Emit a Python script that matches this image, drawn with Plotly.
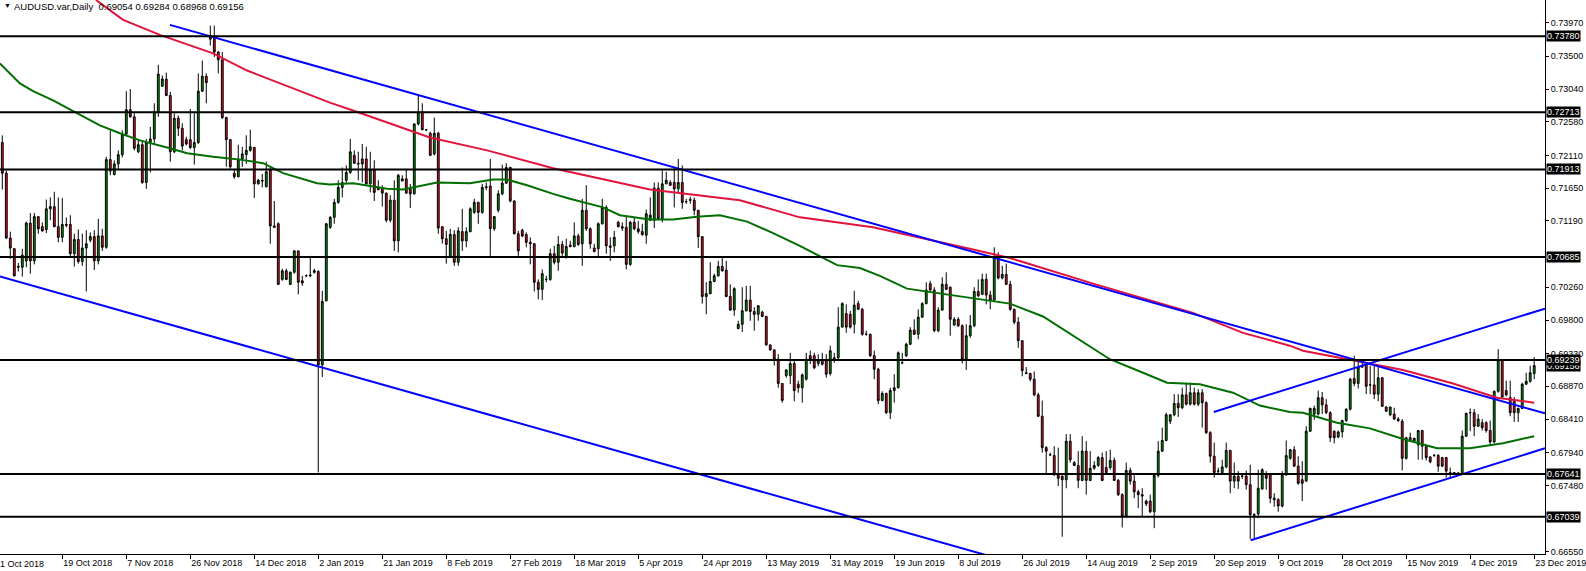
import plotly.graph_objects as go

# ---------------- data (prices in pips = price x 10^4) ----------------
date_labels = ["1 Oct 2018", "19 Oct 2018", "7 Nov 2018", "26 Nov 2018", "14 Dec 2018",
               "2 Jan 2019", "21 Jan 2019", "8 Feb 2019", "27 Feb 2019", "18 Mar 2019",
               "5 Apr 2019", "24 Apr 2019", "13 May 2019", "31 May 2019", "19 Jun 2019",
               "8 Jul 2019", "26 Jul 2019", "14 Aug 2019", "2 Sep 2019", "20 Sep 2019",
               "9 Oct 2019", "28 Oct 2019", "15 Nov 2019", "4 Dec 2019", "23 Dec 2019"]

opens = [
    7229, 7186, 7095, 7080, 7054, 7054, 7063, 7116, 7063, 7125,
    7111, 7107, 7136, 7139, 7111, 7096, 7114, 7114, 7073, 7093,
    7062, 7081, 7092, 7097, 7063, 7098, 7082, 7205, 7184, 7199,
    7212, 7241, 7275, 7265, 7216, 7226, 7173, 7229, 7234, 7272,
    7308, 7318, 7295, 7216, 7263, 7249, 7233, 7233, 7222, 7229,
    7301, 7322, 7377, 7375, 7356, 7345, 7264, 7233, 7186, 7181,
    7206, 7212, 7218, 7222, 7171, 7176, 7167, 7191, 7112, 7115,
    7037, 7049, 7030, 7047, 7077, 7035, 7042, 7042, 7047, 7048,
    6917, 7007, 7110, 7124, 7145, 7166, 7176, 7187, 7211, 7200,
    7206, 7206, 7171, 7191, 7163, 7164, 7158, 7120, 7148, 7091,
    7178, 7178, 7164, 7157, 7255, 7272, 7247, 7242, 7213, 7242,
    7111, 7094, 7070, 7100, 7061, 7104, 7091, 7104, 7131, 7145,
    7131, 7167, 7168, 7108, 7134, 7157, 7172, 7194, 7147, 7101,
    7106, 7100, 7089, 7087, 7033, 7023, 7037, 7037, 7073, 7061,
    7086, 7069, 7085, 7083, 7098, 7087, 7134, 7108, 7081, 7080,
    7115, 7138, 7084, 7084, 7117, 7111, 7110, 7058, 7117, 7108,
    7104, 7099, 7120, 7120, 7165, 7122, 7171, 7173, 7173, 7164,
    7173, 7146, 7149, 7148, 7134, 7097, 7013, 7017, 7034, 7042,
    7055, 7050, 7013, 6994, 6968, 6974, 6993, 7008, 6992, 6988,
    6991, 6985, 6945, 6938, 6925, 6891, 6902, 6902, 6919, 6890,
    6885, 6897, 6930, 6930, 6919, 6924, 6923, 6905, 6927, 6927,
    6970, 6989, 6988, 6974, 7003, 6995, 6960, 6960, 6930, 6911,
    6867, 6877, 6850, 6881, 6885, 6920, 6930, 6946, 6966, 6960,
    6984, 7003, 7031, 7022, 6965, 6994, 7030, 7026, 6973, 6981,
    6972, 6925, 6958, 6972, 7020, 7016, 7037, 7015, 7008, 7068,
    7039, 7044, 7030, 6995, 6977, 6951, 6906, 6905, 6897, 6875,
    6845, 6801, 6791, 6790, 6763, 6761, 6756, 6810, 6780, 6776,
    6755, 6796, 6755, 6772, 6776, 6787, 6773, 6773, 6783, 6755,
    6735, 6705, 6769, 6754, 6739, 6735, 6726, 6726, 6711, 6762,
    6796, 6811, 6838, 6847, 6863, 6857, 6875, 6862, 6878, 6862,
    6878, 6864, 6822, 6789, 6768, 6766, 6774, 6797, 6754, 6761,
    6761, 6761, 6749, 6707, 6708, 6743, 6763, 6763, 6730, 6728,
    6719, 6763, 6786, 6798, 6775, 6756, 6754, 6824, 6848, 6848,
    6871, 6861, 6850, 6824, 6816, 6823, 6839, 6855, 6898, 6891,
    6915, 6918, 6889, 6889, 6876, 6899, 6858, 6847, 6848, 6841,
    6838, 6786, 6815, 6810, 6805, 6825, 6803, 6788, 6790, 6790,
    6787, 6787, 6766, 6766, 6765, 6764, 6817, 6850, 6850, 6831,
    6836, 6836, 6825, 6809, 6880, 6924, 6881, 6871, 6866, 6850,
    6856, 6890, 6894, 6905]

highs = [
    7239, 7190, 7104, 7081, 7060, 7080, 7118, 7130, 7130, 7126,
    7117, 7149, 7152, 7160, 7152, 7151, 7124, 7127, 7101, 7107,
    7101, 7106, 7103, 7106, 7122, 7108, 7209, 7246, 7204, 7218,
    7246, 7301, 7304, 7270, 7234, 7231, 7234, 7251, 7284, 7338,
    7323, 7327, 7300, 7270, 7267, 7256, 7237, 7276, 7270, 7326,
    7344, 7326, 7393, 7393, 7357, 7356, 7265, 7234, 7192, 7226,
    7223, 7239, 7247, 7223, 7178, 7185, 7202, 7195, 7147, 7117,
    7052, 7052, 7048, 7078, 7077, 7042, 7044, 7070, 7052, 7050,
    7021, 7116, 7126, 7150, 7176, 7194, 7197, 7234, 7218, 7216,
    7227, 7223, 7216, 7204, 7176, 7169, 7159, 7155, 7176, 7185,
    7183, 7192, 7171, 7256, 7295, 7284, 7248, 7244, 7264, 7244,
    7111, 7105, 7108, 7106, 7110, 7136, 7110, 7138, 7150, 7146,
    7171, 7173, 7206, 7126, 7162, 7198, 7200, 7195, 7148, 7105,
    7108, 7103, 7096, 7088, 7037, 7051, 7042, 7080, 7084, 7098,
    7091, 7094, 7091, 7117, 7101, 7150, 7169, 7110, 7087, 7117,
    7150, 7141, 7096, 7105, 7119, 7117, 7126, 7119, 7124, 7119,
    7115, 7135, 7152, 7173, 7173, 7190, 7188, 7176, 7195, 7206,
    7197, 7150, 7153, 7152, 7134, 7097, 7033, 7061, 7045, 7063,
    7068, 7063, 7030, 7026, 6979, 7026, 7028, 7028, 6998, 7001,
    6993, 6986, 6946, 6939, 6932, 6891, 6911, 6934, 6923, 6895,
    6905, 6934, 6937, 6934, 6932, 6934, 6932, 6944, 6934, 6998,
    7005, 7002, 6993, 7021, 7007, 6997, 6965, 6961, 6937, 6913,
    6880, 6878, 6885, 6904, 6936, 6934, 6948, 6970, 6981, 6995,
    7005, 7033, 7035, 7026, 6998, 7040, 7047, 7027, 6984, 6984,
    6974, 6974, 6987, 7026, 7037, 7045, 7045, 7021, 7082, 7075,
    7056, 7059, 7035, 6996, 6984, 6952, 6914, 6906, 6908, 6878,
    6867, 6803, 6794, 6803, 6801, 6762, 6820, 6820, 6782, 6796,
    6817, 6810, 6796, 6782, 6789, 6794, 6796, 6798, 6787, 6757,
    6737, 6780, 6773, 6763, 6742, 6744, 6728, 6735, 6763, 6810,
    6829, 6850, 6848, 6876, 6876, 6885, 6892, 6892, 6885, 6883,
    6883, 6866, 6824, 6808, 6773, 6784, 6808, 6798, 6780, 6768,
    6763, 6769, 6777, 6709, 6770, 6772, 6768, 6764, 6737, 6730,
    6768, 6811, 6799, 6803, 6789, 6782, 6831, 6857, 6860, 6881,
    6879, 6869, 6852, 6825, 6825, 6840, 6856, 6899, 6930, 6923,
    6922, 6920, 6916, 6916, 6916, 6900, 6859, 6858, 6857, 6844,
    6841, 6816, 6822, 6815, 6825, 6826, 6803, 6789, 6792, 6792,
    6788, 6788, 6773, 6766, 6767, 6825, 6850, 6856, 6855, 6848,
    6841, 6838, 6839, 6881, 6939, 6925, 6895, 6895, 6872, 6857,
    6892, 6906, 6916, 6928]

lows = [
    7163, 7094, 7066, 7041, 7048, 7041, 7054, 7045, 7058, 7101,
    7104, 7102, 7120, 7110, 7089, 7089, 7110, 7070, 7055, 7059,
    7056, 7020, 7089, 7050, 7058, 7077, 7080, 7183, 7183, 7191,
    7208, 7239, 7264, 7218, 7214, 7171, 7164, 7187, 7227, 7265,
    7307, 7294, 7202, 7214, 7238, 7218, 7225, 7220, 7198, 7227,
    7300, 7284, 7365, 7349, 7326, 7262, 7195, 7192, 7178, 7180,
    7195, 7199, 7216, 7151, 7170, 7166, 7166, 7087, 7110, 7029,
    7035, 7036, 7029, 7045, 7016, 7028, 7041, 7040, 7045, 6766,
    6900, 7006, 7108, 7115, 7143, 7152, 7172, 7185, 7199, 7176,
    7173, 7170, 7159, 7147, 7162, 7139, 7117, 7117, 7077, 7075,
    7175, 7157, 7137, 7156, 7253, 7246, 7245, 7210, 7211, 7101,
    7087, 7059, 7068, 7056, 7056, 7077, 7082, 7103, 7129, 7115,
    7129, 7162, 7070, 7105, 7131, 7155, 7171, 7145, 7100, 7070,
    7096, 7082, 7058, 7020, 7009, 7008, 7033, 7035, 7058, 7049,
    7070, 7066, 7082, 7082, 7084, 7056, 7105, 7080, 7075, 7068,
    7114, 7073, 7063, 7075, 7110, 7105, 7051, 7056, 7106, 7101,
    7098, 7087, 7120, 7109, 7120, 7117, 7171, 7168, 7138, 7159,
    7136, 7143, 7143, 7127, 7081, 7003, 6988, 7016, 7033, 7041,
    7048, 7012, 6993, 6986, 6967, 6963, 6992, 6979, 6965, 6979,
    6984, 6944, 6937, 6916, 6885, 6864, 6899, 6890, 6866, 6878,
    6864, 6895, 6918, 6911, 6915, 6916, 6899, 6902, 6920, 6924,
    6970, 6962, 6968, 6961, 6994, 6958, 6958, 6928, 6897, 6862,
    6866, 6848, 6841, 6864, 6884, 6918, 6928, 6945, 6959, 6953,
    6983, 7002, 7021, 6963, 6963, 6993, 7022, 6958, 6972, 6970,
    6919, 6910, 6955, 6970, 7012, 7015, 7002, 6995, 7007, 7037,
    7037, 7029, 6993, 6974, 6941, 6901, 6904, 6894, 6873, 6844,
    6794, 6763, 6789, 6761, 6747, 6676, 6744, 6780, 6775, 6744,
    6754, 6735, 6754, 6770, 6774, 6754, 6763, 6770, 6754, 6733,
    6689, 6703, 6749, 6730, 6716, 6705, 6719, 6709, 6688, 6759,
    6795, 6810, 6834, 6845, 6844, 6855, 6860, 6860, 6860, 6859,
    6829, 6820, 6780, 6759, 6765, 6764, 6772, 6737, 6744, 6743,
    6757, 6742, 6673, 6673, 6702, 6742, 6742, 6723, 6718, 6711,
    6717, 6761, 6784, 6774, 6749, 6726, 6753, 6823, 6840, 6846,
    6848, 6848, 6809, 6807, 6814, 6815, 6837, 6853, 6887, 6884,
    6914, 6876, 6876, 6869, 6866, 6858, 6851, 6845, 6840, 6837,
    6769, 6784, 6809, 6808, 6784, 6784, 6783, 6779, 6788, 6767,
    6774, 6759, 6759, 6764, 6763, 6763, 6816, 6824, 6817, 6830,
    6825, 6822, 6804, 6807, 6878, 6871, 6873, 6845, 6837, 6837,
    6855, 6889, 6892, 6897]

closes = [
    7186, 7095, 7081, 7042, 7055, 7071, 7116, 7063, 7125, 7108,
    7105, 7136, 7139, 7111, 7096, 7114, 7113, 7073, 7093, 7062,
    7081, 7087, 7097, 7063, 7098, 7082, 7205, 7189, 7199, 7212,
    7241, 7275, 7265, 7221, 7226, 7173, 7229, 7234, 7272, 7325,
    7318, 7295, 7216, 7263, 7249, 7224, 7227, 7222, 7229, 7301,
    7322, 7313, 7374, 7356, 7345, 7264, 7233, 7195, 7181, 7206,
    7213, 7218, 7223, 7171, 7176, 7175, 7188, 7112, 7110, 7030,
    7049, 7037, 7047, 7077, 7033, 7032, 7042, 7043, 7049, 6917,
    7006, 7115, 7124, 7145, 7166, 7173, 7187, 7216, 7200, 7199,
    7199, 7171, 7191, 7159, 7165, 7158, 7120, 7148, 7091, 7183,
    7175, 7158, 7157, 7255, 7272, 7247, 7247, 7211, 7242, 7109,
    7094, 7086, 7100, 7061, 7105, 7091, 7104, 7136, 7145, 7131,
    7166, 7166, 7108, 7125, 7157, 7172, 7194, 7147, 7101, 7077,
    7098, 7089, 7087, 7033, 7023, 7045, 7037, 7073, 7061, 7086,
    7074, 7083, 7083, 7098, 7086, 7134, 7108, 7087, 7076, 7115,
    7138, 7084, 7082, 7096, 7111, 7109, 7058, 7117, 7108, 7104,
    7100, 7129, 7127, 7165, 7122, 7171, 7176, 7169, 7164, 7173,
    7145, 7146, 7148, 7134, 7097, 7013, 7017, 7034, 7042, 7055,
    7049, 7013, 6994, 7024, 6974, 6993, 7008, 6992, 6988, 7000,
    6985, 6945, 6938, 6925, 6891, 6867, 6910, 6919, 6881, 6885,
    6903, 6925, 6925, 6913, 6924, 6918, 6904, 6937, 6924, 6970,
    7003, 6970, 6970, 7001, 6995, 6960, 6960, 6930, 6911, 6867,
    6877, 6850, 6881, 6885, 6934, 6920, 6946, 6966, 6960, 6984,
    7003, 7022, 7022, 6965, 6994, 7030, 7023, 6981, 6981, 6972,
    6925, 6958, 6972, 7020, 7014, 7037, 7015, 7008, 7068, 7039,
    7044, 7030, 6995, 6977, 6951, 6909, 6905, 6897, 6875, 6845,
    6801, 6796, 6791, 6763, 6758, 6756, 6810, 6784, 6776, 6755,
    6796, 6755, 6772, 6776, 6787, 6755, 6766, 6783, 6755, 6735,
    6705, 6769, 6754, 6739, 6735, 6733, 6722, 6711, 6762, 6796,
    6811, 6847, 6847, 6863, 6857, 6875, 6862, 6878, 6862, 6878,
    6864, 6822, 6789, 6766, 6768, 6774, 6797, 6754, 6761, 6754,
    6761, 6749, 6707, 6706, 6744, 6770, 6758, 6730, 6728, 6719,
    6763, 6790, 6798, 6775, 6751, 6751, 6824, 6856, 6856, 6871,
    6861, 6850, 6815, 6815, 6823, 6839, 6855, 6897, 6891, 6914,
    6914, 6887, 6889, 6876, 6899, 6859, 6852, 6858, 6841, 6839,
    6786, 6815, 6810, 6814, 6825, 6803, 6787, 6781, 6790, 6775,
    6775, 6768, 6766, 6765, 6765, 6817, 6849, 6850, 6831, 6841,
    6829, 6825, 6809, 6880, 6924, 6872, 6875, 6850, 6850, 6856,
    6890, 6894, 6906, 6916]

# moving averages (bar index, pips)
red_ma_idx = [23.4, 30.2, 39.4, 52.7, 61.2, 81.9, 87.7, 106.9, 121.2, 137.7, 161.9, 184.4,
              199.4, 217.7, 241.9, 251.9, 272.7, 285.2, 297.7, 310.2, 321.9, 325.2, 337.7,
              350.2, 362.7, 373.7, 383.0]
red_ma_val = [7429, 7401, 7380, 7354, 7330, 7285, 7274, 7236, 7218, 7193, 7163, 7148,
              7124, 7110, 7080, 7067, 7031, 7011, 6990, 6962, 6944, 6937, 6923,
              6910, 6891, 6871, 6864]
green_ma_idx = [-0.6, 4.4, 7.7, 12.7, 17.7, 24.4, 29.4, 34.4, 41.2, 46.2, 52.7, 59.4, 65.2,
                70.2, 78.7, 81.9, 87.7, 96.2, 100.2, 108.7, 116.9, 122.7, 126.2, 131.2,
                137.7, 141.9, 150.2, 154.4, 161.9, 167.7, 173.7, 179.4, 186.2, 192.7,
                199.4, 204.4, 208.7, 214.4, 219.4, 226.2, 234.4, 241.9, 251.9, 260.2,
                268.7, 276.9, 285.2, 291.2, 299.4, 307.7, 314.4, 321.9, 325.2, 333.7,
                341.9, 350.2, 358.7, 366.9, 375.2, 383.0]
green_ma_val = [7340, 7312, 7301, 7288, 7273, 7253, 7242, 7232, 7222, 7214, 7209, 7205, 7200,
                7186, 7172, 7170, 7172, 7164, 7163, 7173, 7172, 7177, 7177, 7169,
                7157, 7150, 7138, 7127, 7121, 7121, 7125, 7127, 7118, 7102,
                7084, 7069, 7057, 7053, 7042, 7024, 7017, 7011, 7003, 6985,
                6955, 6925, 6906, 6892, 6890, 6878, 6860, 6851, 6850, 6836,
                6828, 6813, 6800, 6800, 6807, 6817]

# trend lines: (bar index pair, pips pair)
trend_down_upper = ([41.9, 385.7], [7394, 6849])
trend_down_lower = ([-0.6, 260.0], [7041, 6628])
trend_up_upper = ([302.9, 385.7], [6851, 6996])
trend_up_lower = ([312.1, 385.7], [6671, 6800])

levels = [0.73780, 0.72713, 0.71913, 0.70685, 0.69239, 0.67641, 0.67039]
current_price = 0.69156
y_ticks = [0.66550, 0.67480, 0.67940, 0.68410, 0.68870, 0.69330, 0.69800, 0.70260,
           0.71190, 0.71650, 0.72110, 0.72580, 0.73040, 0.73500, 0.73970]
header = "AUDUSD.var,Daily\u00a0\u00a00.69054 0.69284 0.68968 0.69156"

# ---------------- figure ----------------
S = 10000.0
n = len(closes)
assert len(opens) == len(highs) == len(lows) == n, (len(opens), len(highs), len(lows), n)
idx = list(range(n))
FONT = "Liberation Sans, Arial, sans-serif"

fig = go.Figure()
fig.add_trace(go.Candlestick(
    x=idx,
    open=[v / S for v in opens], high=[v / S for v in highs],
    low=[v / S for v in lows], close=[v / S for v in closes],
    increasing=dict(line=dict(color="black", width=1), fillcolor="#009a00"),
    decreasing=dict(line=dict(color="black", width=1), fillcolor="#e0102a"),
    whiskerwidth=0, showlegend=False, hoverinfo="skip"))

def add_line(xs, ys, color, width=2):
    fig.add_trace(go.Scatter(x=xs, y=[v / S for v in ys], mode="lines",
                             line=dict(color=color, width=width),
                             showlegend=False, hoverinfo="skip"))

add_line(green_ma_idx, green_ma_val, "#006e00")
add_line(red_ma_idx, red_ma_val, "#e0143c")
for tl in (trend_down_upper, trend_down_lower, trend_up_upper, trend_up_lower):
    add_line(tl[0], tl[1], "#0000ff")

shapes = []
for lv in levels:
    shapes.append(dict(type="line", xref="paper", x0=0, x1=1, yref="y", y0=lv, y1=lv,
                       line=dict(color="black", width=2), layer="above"))

annotations = []
# current price box first (drawn under level boxes)
for val in [current_price] + levels:
    annotations.append(dict(xref="paper", x=1, xanchor="left", xshift=1,
                            yref="y", y=val, yanchor="middle",
                            text="%.5f" % val, showarrow=False,
                            font=dict(family=FONT, size=9, color="white"),
                            bgcolor="black", borderpad=0))
annotations.append(dict(xref="paper", x=0, xanchor="left", xshift=2, yref="paper", y=1,
                        yanchor="top", yshift=0, text="\u25BC", showarrow=False,
                        font=dict(family=FONT, size=7, color="black")))
annotations.append(dict(xref="paper", x=0, xanchor="left", xshift=12, yref="paper", y=1,
                        yanchor="top", yshift=1, text=header, showarrow=False,
                        font=dict(family=FONT, size=9.5, color="black")))
annotations.append(dict(xref="paper", x=0, xanchor="left", xshift=-2, yref="paper", y=0,
                        yanchor="top", yshift=-3, text=date_labels[0], showarrow=False,
                        font=dict(family=FONT, size=9, color="black")))

tick_idx = [16 * j - 1 for j in range(1, len(date_labels))]

fig.update_layout(
    width=1586, height=571,
    margin=dict(l=0, r=41, t=0, b=17, pad=0),
    paper_bgcolor="white", plot_bgcolor="white",
    font=dict(family=FONT, size=9, color="black"),
    showlegend=False, boxgap=0.35,
    shapes=shapes, annotations=annotations,
    xaxis=dict(range=[-0.575, 385.7], showgrid=False, zeroline=False,
               showline=True, linecolor="black", linewidth=1,
               ticks="outside", ticklen=4, tickcolor="black", tickwidth=1,
               tickvals=tick_idx, ticktext=date_labels[1:],
               ticklabelposition="outside right", ticklabeloverflow="allow",
               tickfont=dict(family=FONT, size=9, color="black"),
               rangeslider=dict(visible=False), fixedrange=True),
    yaxis=dict(range=[0.665175, 0.742893], side="right", showgrid=False, zeroline=False,
               showline=True, linecolor="black", linewidth=1,
               ticks="outside", ticklen=3, tickcolor="black",
               tickvals=y_ticks, ticktext=["%.5f" % v for v in y_ticks],
               tickfont=dict(family=FONT, size=9, color="black"), fixedrange=True),
)

fig.write_html("out.html",
               config={"displayModeBar": False, "staticPlot": True},
               post_script="document.body.style.margin='0';"
                           "document.body.style.overflow='hidden';")
